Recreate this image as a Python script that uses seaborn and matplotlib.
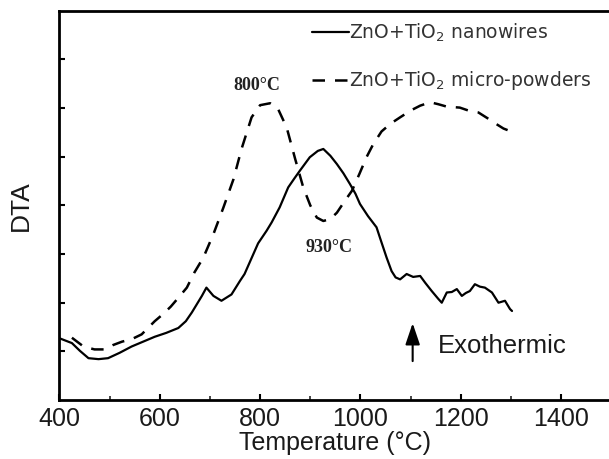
"""
DTA curves of ZnO+TiO2 nanowires vs micro-powders.
"""

import pandas as pd
import matplotlib
matplotlib.use("Agg")
import matplotlib.pyplot as plt
from matplotlib.ticker import MultipleLocator
import seaborn as sns

# nanowires (solid)
nw_temp = [400, 425, 441, 458, 478, 497, 520, 544, 567, 590, 613, 637, 652, 664, 684, 693,
           707, 723, 743, 760, 769, 796, 813, 823, 839, 856, 868, 879, 899, 915, 926, 940,
           953, 966, 979, 990, 999, 1015, 1032, 1040, 1052, 1062, 1070, 1079, 1092, 1105,
           1119, 1129, 1142, 1155, 1162, 1172, 1182, 1192, 1202, 1210, 1218, 1228, 1238,
           1248, 1262, 1275, 1288, 1298, 1302]
nw_dta = [1.27, 1.17, 1.01, 0.86, 0.84, 0.86, 0.97, 1.10, 1.20, 1.30, 1.38, 1.48, 1.62, 1.80,
          2.14, 2.31, 2.14, 2.04, 2.17, 2.45, 2.59, 3.22, 3.48, 3.65, 3.96, 4.37, 4.55, 4.71,
          4.99, 5.12, 5.16, 5.02, 4.85, 4.66, 4.44, 4.24, 4.03, 3.78, 3.55, 3.30, 2.93, 2.65,
          2.52, 2.48, 2.59, 2.53, 2.55, 2.41, 2.24, 2.08, 2.00, 2.21, 2.22, 2.28, 2.14, 2.20,
          2.24, 2.38, 2.33, 2.31, 2.21, 2.00, 2.04, 1.87, 1.83]

# micro-powders (dashed)
mp_temp = [425, 448, 470, 491, 507, 525, 544, 564, 590, 607, 622, 637, 654, 669, 687, 707,
           727, 747, 763, 783, 800, 820, 835, 853, 870, 886, 900, 913, 926, 940, 953, 968,
           983, 998, 1012, 1025, 1042, 1060, 1079, 1100, 1119, 1139, 1155, 1172, 1198, 1215,
           1235, 1255, 1271, 1285, 1300]
mp_dta = [1.28, 1.10, 1.04, 1.04, 1.13, 1.20, 1.25, 1.35, 1.62, 1.77, 1.92, 2.10, 2.31, 2.62,
          2.93, 3.41, 3.96, 4.54, 5.16, 5.81, 6.06, 6.10, 6.00, 5.60, 4.95, 4.37, 4.00, 3.75,
          3.68, 3.72, 3.85, 4.08, 4.30, 4.65, 4.99, 5.25, 5.52, 5.68, 5.81, 5.95, 6.05, 6.12,
          6.08, 6.03, 6.01, 5.95, 5.91, 5.78, 5.67, 5.58, 5.52]

labels = ["ZnO+TiO$_2$ nanowires", "ZnO+TiO$_2$ micro-powders"]
x_ticks = [400, 600, 800, 1000, 1200, 1400]

sns.set_theme(style="ticks")
plt.rcParams["font.family"] = ["Liberation Sans", "DejaVu Sans"]
plt.rcParams["mathtext.fontset"] = "custom"
plt.rcParams["mathtext.rm"] = "DejaVu Sans"
plt.rcParams["mathtext.it"] = "DejaVu Sans"


def main():
    nw = pd.DataFrame({"temp": nw_temp, "dta": nw_dta})
    mp = pd.DataFrame({"temp": mp_temp, "dta": mp_dta})

    fig = plt.figure(figsize=(6.09, 4.59), dpi=100)
    ax = fig.add_axes([0.0975, 0.1285, 0.9064, 0.848])

    sns.lineplot(data=nw, x="temp", y="dta", ax=ax, color="black", lw=1.6,
                 sort=False, label=labels[0])
    sns.lineplot(data=mp, x="temp", y="dta", ax=ax, color="black", lw=1.8,
                 sort=False, label=labels[1], linestyle=(0, (5, 4)))

    ax.set_xlim(400, 1500)
    ax.set_ylim(0, 8)
    ax.set_xticks(x_ticks)
    ax.xaxis.set_minor_locator(MultipleLocator(100))
    ax.set_yticks(range(1, 8))
    ax.set_yticklabels([])
    ax.tick_params(axis="both", which="major", direction="in", length=4, width=1.5,
                   color="black", labelsize=18, labelcolor="#1a1a1a", pad=5)
    ax.tick_params(axis="x", which="minor", direction="in", length=3, width=1.2)
    for s in ["left", "bottom", "top", "right"]:
        ax.spines[s].set_linewidth(2)
        ax.spines[s].set_color("black")

    ax.set_xlabel("Temperature (°C)", fontsize=18, color="#1a1a1a", labelpad=0)
    ax.set_ylabel("DTA", fontsize=19, color="#1a1a1a", labelpad=14)

    ax.legend(loc="upper left", bbox_to_anchor=(0.4576, 0.972), frameon=False,
              prop={"family": "DejaVu Sans", "size": 13.5},
              handlelength=2.0, handletextpad=0.0, borderpad=0,
              borderaxespad=0, labelspacing=1.35, labelcolor="#333333")

    ax.text(794, 6.46, "800°C", fontsize=13, family="Liberation Serif",
            fontweight="bold", color="#222222", ha="center", va="center")
    ax.text(937, 3.13, "930°C", fontsize=13, family="Liberation Serif",
            fontweight="bold", color="#222222", ha="center", va="center")

    ax.annotate("", xy=(1104, 1.58), xytext=(1104, 0.80),
                arrowprops=dict(arrowstyle="-|>,head_length=0.65,head_width=0.22",
                                color="black", lw=1.5, mutation_scale=20,
                                shrinkA=0, shrinkB=0))
    ax.text(1154, 1.11, "Exothermic", fontsize=18.5, color="#1a1a1a",
            ha="left", va="center")

    fig.savefig("out.png", dpi=100)


if __name__ == "__main__":
    main()
